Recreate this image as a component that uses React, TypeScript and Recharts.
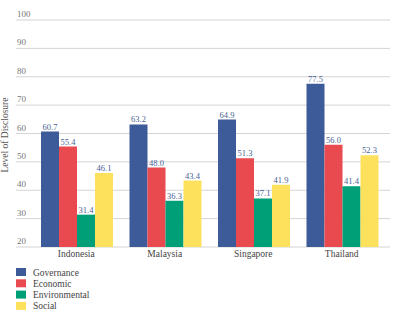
import React from "react";
import {
  BarChart,
  Bar,
  XAxis,
  YAxis,
  CartesianGrid,
  Legend,
  LabelList
} from "recharts";

const countries = ["Indonesia", "Malaysia", "Singapore", "Thailand"];
const governance = [60.7, 63.2, 64.9, 77.5];
const economic = [55.4, 48.0, 51.3, 56.0];
const environmental = [31.4, 36.3, 37.1, 41.4];
const social = [46.1, 43.4, 41.9, 52.3];
const yTicks = [20, 30, 40, 50, 60, 70, 80, 90, 100];

const series = [
  { key: "governance", name: "Governance", color: "#3d5b99" },
  { key: "economic", name: "Economic", color: "#e94a50" },
  { key: "environmental", name: "Environmental", color: "#009f78" },
  { key: "social", name: "Social", color: "#fde15c" }
];

const data = countries.map((c, i) => ({
  country: c,
  governance: governance[i],
  economic: economic[i],
  environmental: environmental[i],
  social: social[i]
}));

const FONT = "'Liberation Serif', 'Times New Roman', serif";

// tick labels sit above the grid line, at the left edge
const YTick = (props: any) => {
  const { x, y, payload } = props;
  return (
    <text x={x + 1} y={y - 3} fontSize={9} fill="#777" fontFamily={FONT} textAnchor="start">
      {payload.value}
    </text>
  );
};

const XTick = (props: any) => {
  const { x, y, payload } = props;
  return (
    <text x={x} y={y + 10} fontSize={9.5} fill="#444" fontFamily={FONT} textAnchor="middle">
      {payload.value}
    </text>
  );
};

const LegendBox = () => (
  <svg width={120} height={53} style={{ display: "block", marginLeft: 16 }}>
    {series.map((s, i) => (
      <g key={s.key}>
        <rect x={0} y={6 + i * 11.3} width={10} height={8} fill={s.color} />
        <text x={17} y={13.5 + i * 11.3} fontSize={9.5} fill="#444" fontFamily={FONT}>
          {s.name}
        </text>
      </g>
    ))}
  </svg>
);

const fmt = (v: any) => Number(v).toFixed(1);

export default function App() {
  return (
    <div style={{ position: "absolute", left: 0, top: 0, background: "#fff" }}>
      <BarChart
        width={393}
        height={321}
        data={data}
        margin={{ top: 20, right: 3, left: 0, bottom: 6 }}
        barCategoryGap={9}
        barGap={0}
      >
        <CartesianGrid vertical={false} stroke="#d4d4d4" />
        <XAxis
          dataKey="country"
          padding={{ left: 16, right: 4 }}
          axisLine={false}
          tickLine={false}
          height={15}
          tickSize={0}
          tickMargin={0}
          tick={<XTick />}
        />
        <YAxis
          width={16}
          domain={[20, 100]}
          ticks={yTicks}
          allowDataOverflow
          axisLine={false}
          tickLine={false}
          tickSize={0}
          tickMargin={0}
          tick={<YTick />}
          label={() => (
            <text
              x={8}
              y={135}
              transform="rotate(-90 8 135)"
              textAnchor="middle"
              fontSize={9.5}
              fill="#555"
              fontFamily={FONT}
            >
              Level of Disclosure
            </text>
          )}
        />
        <Legend verticalAlign="bottom" align="left" content={<LegendBox />} />
        {series.map((s) => (
          <Bar key={s.key} dataKey={s.key} name={s.name} fill={s.color} isAnimationActive={false}>
            <LabelList
              dataKey={s.key}
              position="top"
              offset={2}
              formatter={fmt}
              style={{ fontSize: 8.5, fill: "#4a5f94", fontFamily: FONT }}
            />
          </Bar>
        ))}
      </BarChart>
    </div>
  );
}
